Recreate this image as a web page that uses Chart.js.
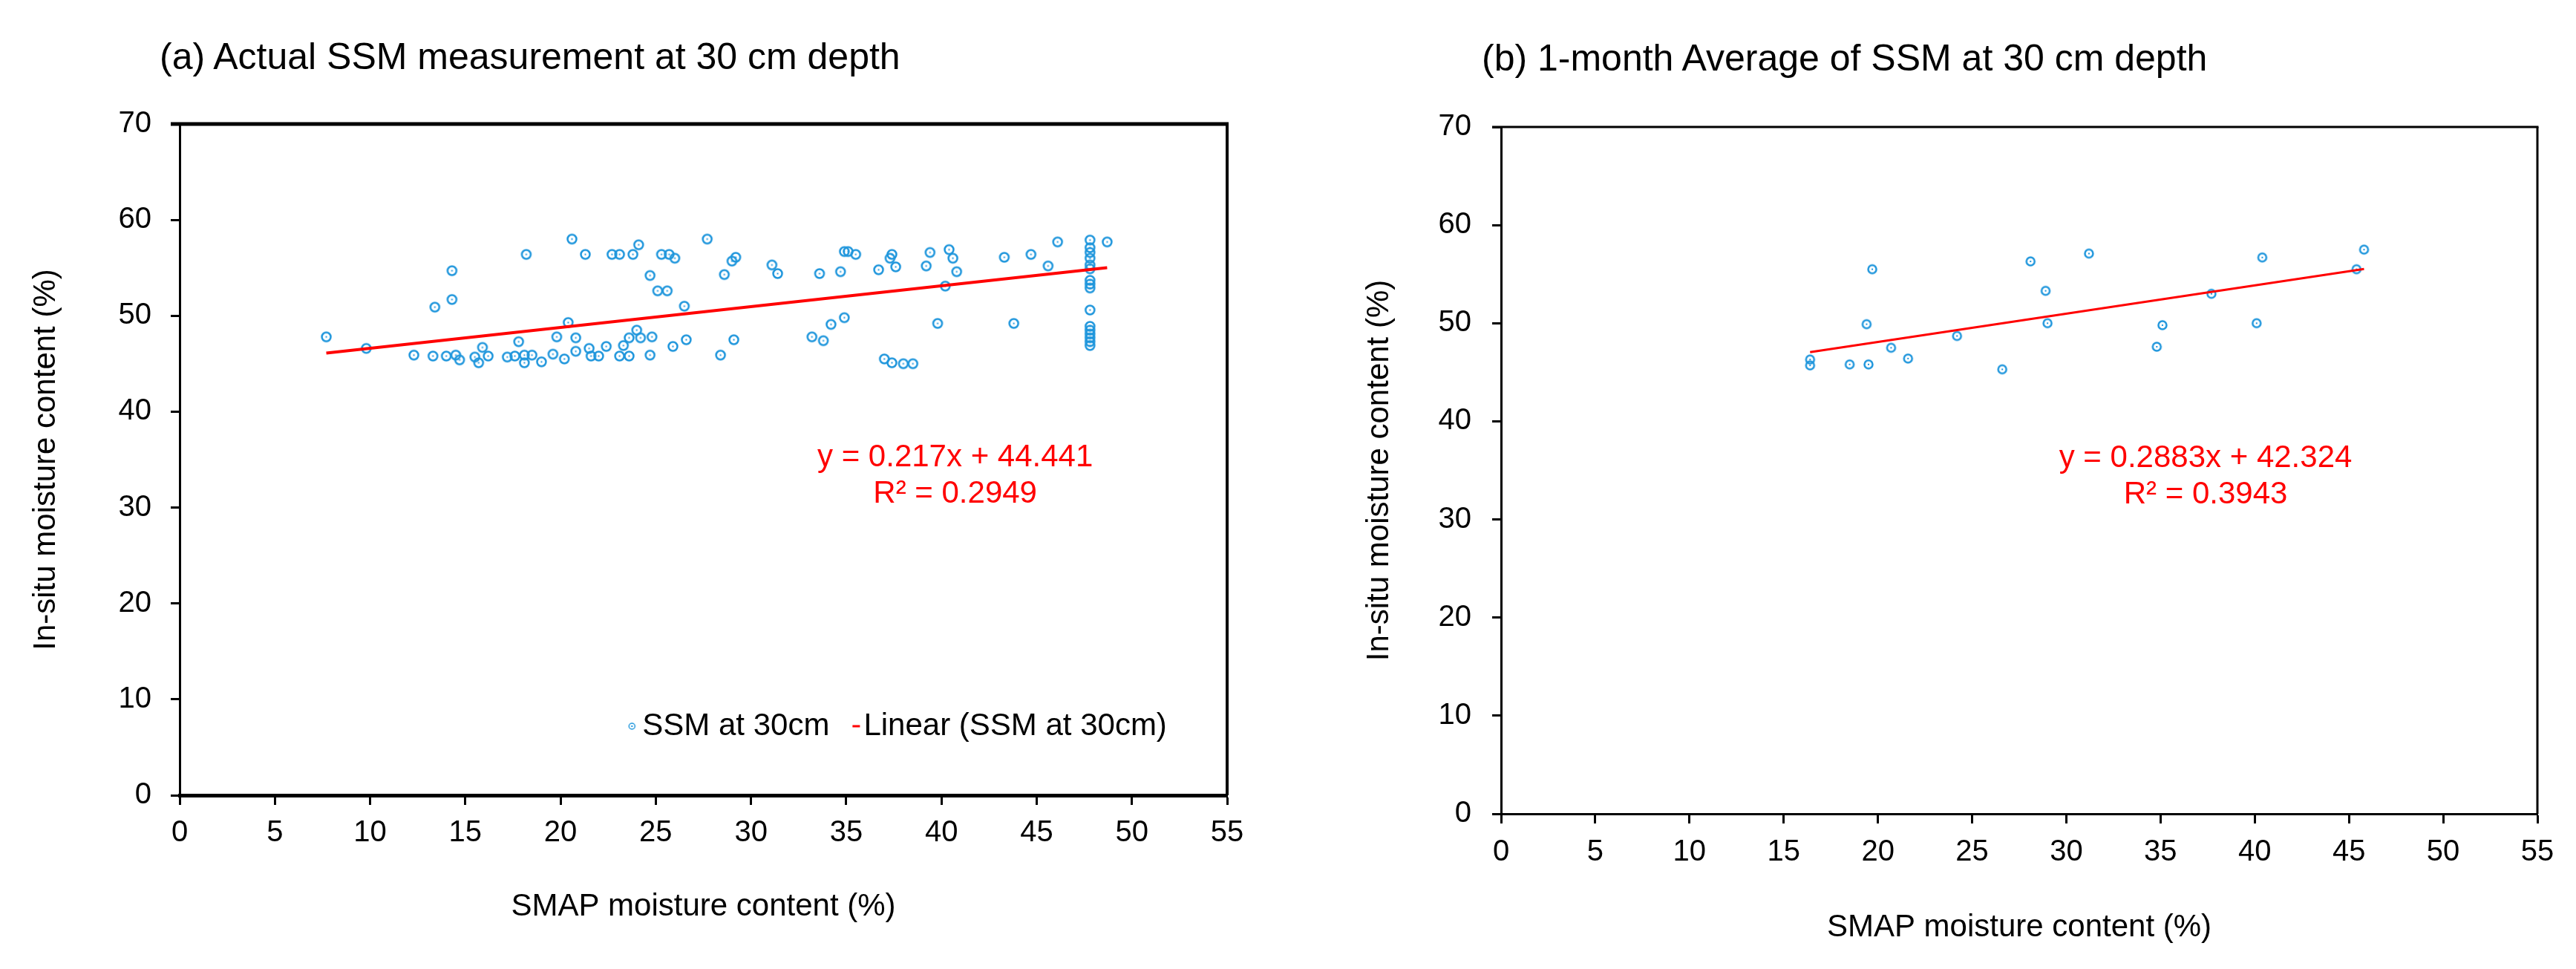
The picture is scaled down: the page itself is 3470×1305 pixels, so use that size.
<!DOCTYPE html>
<html>
<head>
<meta charset="utf-8">
<script src="https://cdn.jsdelivr.net/npm/chart.js@4.4.1/dist/chart.umd.min.js"></script>
<style>
  body { margin: 0; background: #fff; width: 3470px; height: 1305px; position: relative; overflow: hidden; font-family: "Liberation Sans", Arial, sans-serif; }
  canvas { position: absolute; top: 0; }
  #chartA { left: 0; }
  #chartB { left: 1735px; }
  .ttl { position: absolute; font-size: 50px; line-height: 1; color: #000; white-space: nowrap; }
</style>
</head>
<body>
<div class="ttl" style="left:215px;top:51px">(a) Actual SSM measurement at 30 cm depth</div>
<div class="ttl" style="left:1996px;top:53px">(b) 1-month Average of SSM at 30 cm depth</div>
<canvas id="chartA" width="1735" height="1305"></canvas>
<canvas id="chartB" width="1735" height="1305"></canvas>
<script>
// ticks
const xTicks = [0, 5, 10, 15, 20, 25, 30, 35, 40, 45, 50, 55];
const yTicks = [0, 10, 20, 30, 40, 50, 60, 70];

// (a) actual SSM at 30 cm, SMAP vs in-situ
const ssmX = [7.7, 9.8, 12.3, 13.3, 13.4, 14.3, 14.3, 14.0, 14.5, 14.7, 15.5, 15.7, 15.9, 16.2, 18.2, 17.2, 17.8, 17.6,
  18.1, 18.1, 18.5, 19.0, 19.8, 19.6, 20.2, 20.4, 20.6, 20.8, 20.8, 21.3, 21.5, 21.6, 22.0, 22.4, 22.7, 23.1, 23.1, 23.3,
  23.6, 23.6, 23.8, 24.1, 24.0, 24.2, 24.7, 24.8, 24.7, 25.1, 25.6, 25.3, 25.7, 26.0, 25.9, 26.5, 26.6, 27.7, 28.4, 28.6,
  29.1, 29.0, 29.2, 31.1, 31.4, 33.2, 33.8, 33.6, 34.2, 34.9, 34.7, 34.9, 35.1, 35.5, 36.7, 37.0, 37.4, 38.0, 38.5, 37.4,
  37.3, 37.6, 39.4, 39.2, 39.8, 40.4, 40.6, 40.8, 40.2, 43.3, 43.8, 44.7, 45.6, 46.1,
  47.8, 47.8, 47.8, 47.8, 47.8, 47.8, 47.8, 47.8, 47.8, 47.8, 47.8, 47.8, 47.8, 47.8, 47.8, 47.8, 48.7];
const ssmY = [47.8, 46.6, 45.9, 45.8, 50.9, 54.7, 51.7, 45.8, 45.9, 45.4, 45.7, 45.1, 46.7, 45.8, 56.4, 45.7, 47.3, 45.8,
  45.9, 45.1, 45.9, 45.2, 47.8, 46.0, 45.5, 49.3, 58.0, 47.7, 46.3, 56.4, 46.6, 45.8, 45.8, 46.8, 56.4, 56.4, 45.8, 46.9,
  45.8, 47.7, 56.4, 57.4, 48.5, 47.7, 54.2, 47.8, 45.9, 52.6, 52.6, 56.4, 56.4, 56.0, 46.8, 51.0, 47.5, 58.0, 45.9, 54.3,
  47.5, 55.7, 56.1, 55.3, 54.4, 47.8, 47.4, 54.4, 49.1, 49.8, 54.6, 56.7, 56.7, 56.4, 54.8, 45.5, 45.1, 45.0, 45.0, 56.4,
  56.0, 55.1, 56.6, 55.2, 49.2, 56.9, 56.0, 54.6, 53.1, 56.1, 49.2, 56.4, 55.2, 57.7,
  57.9, 57.1, 56.6, 56.0, 55.3, 54.9, 53.7, 53.3, 52.9, 50.6, 48.9, 48.5, 48.1, 47.7, 47.3, 46.9, 57.7];
const slopeA = 0.217, interceptA = 44.441, r2A = 0.2949;

// (b) 1-month average
const avgX = [16.4, 16.4, 18.5, 19.5, 19.7, 19.4, 20.7, 21.6, 24.2, 26.6, 28.1, 28.9, 29.0, 31.2, 35.1, 34.8, 37.7, 40.4, 40.1, 45.4, 45.8];
const avgY = [46.3, 45.7, 45.8, 45.8, 55.5, 49.9, 47.5, 46.4, 48.7, 45.3, 56.3, 53.3, 50.0, 57.1, 49.8, 47.6, 53.0, 56.7, 50.0, 55.5, 57.5];
const slopeB = 0.2883, interceptB = 42.324, r2B = 0.3943;

const BLUE = '#1f96dc';
const RED = '#ff0000';
const FONT = '"Liberation Sans", Arial, sans-serif';
Chart.defaults.font.family = FONT;
Chart.defaults.color = '#000';

function ringMarker(r, lw) {
  const s = Math.ceil(2 * r + lw + 2);
  const c = document.createElement('canvas');
  c.width = c.height = s;
  const g = c.getContext('2d');
  g.strokeStyle = BLUE; g.lineWidth = lw;
  g.beginPath(); g.arc(s / 2, s / 2, r, 0, Math.PI * 2); g.stroke();
  g.fillStyle = BLUE; g.fillRect(s / 2 - 1, s / 2 - 1, 2, 2);
  return c;
}

function trend(xs, m, b) {
  const lo = Math.min(...xs), hi = Math.max(...xs);
  return [{ x: lo, y: m * lo + b }, { x: hi, y: m * hi + b }];
}

// frame, equation and in-plot legend
const panelExtras = {
  id: 'panelExtras',
  afterDraw(chart, args, o) {
    const { ctx, chartArea: a, scales: { x, y } } = chart;
    ctx.save();
    ctx.strokeStyle = '#000';
    ctx.lineWidth = o.topWidth;
    ctx.beginPath(); ctx.moveTo(a.left - 12, a.top); ctx.lineTo(a.right + o.rightWidth / 2, a.top); ctx.stroke();
    ctx.lineWidth = o.rightWidth;
    ctx.beginPath(); ctx.moveTo(a.right, a.top); ctx.lineTo(a.right, a.bottom); ctx.stroke();

    ctx.fillStyle = RED;
    ctx.font = `42px ${FONT}`;
    ctx.textAlign = 'center';
    ctx.textBaseline = 'middle';
    const ex = x.getPixelForValue(o.eqAt[0]), ey = y.getPixelForValue(o.eqAt[1]);
    o.eqLines.forEach((t, i) => ctx.fillText(t, ex, ey + i * 49));

    if (o.legendAt) {
      const ds = chart.data.datasets;
      let lx = x.getPixelForValue(o.legendAt[0]);
      const ly = y.getPixelForValue(o.legendAt[1]);
      ctx.font = `42px ${FONT}`;
      ctx.textAlign = 'left';
      ctx.fillStyle = '#000';
      const m = ringMarker(4, 1.5);
      ctx.drawImage(m, lx - m.width / 2, ly - m.height / 2);
      lx += 14;
      ctx.fillText(ds[1].label, lx, ly);
      lx += ctx.measureText(ds[1].label).width + 31;
      ctx.fillStyle = RED;
      ctx.fillRect(lx, ly - 1.5, 10, 3);
      lx += 15;
      ctx.fillStyle = '#000';
      ctx.fillText(ds[0].label, lx, ly);
    }
    ctx.restore();
  }
};

function makeChart(id, cfg) {
  const pts = cfg.xs.map((v, i) => ({ x: v, y: cfg.ys[i] }));
  return new Chart(document.getElementById(id), {
    data: {
      datasets: [
        { type: 'line', label: cfg.lineLabel, data: trend(cfg.xs, cfg.m, cfg.b), borderColor: RED, borderWidth: cfg.lineWidth, pointRadius: 0, order: 0 },
        { type: 'scatter', label: cfg.label, data: pts, pointStyle: ringMarker(cfg.r, 2.5), pointRadius: cfg.r, order: 1 }
      ]
    },
    options: {
      responsive: false, animation: false, devicePixelRatio: 1,
      layout: { padding: { top: cfg.area.top, right: cfg.area.right, left: 0, bottom: 0 } },
      plugins: {
        legend: { display: false }, tooltip: { enabled: false },
        panelExtras: {
          topWidth: cfg.topWidth, rightWidth: cfg.rightWidth,
          eqAt: cfg.eqAt, legendAt: cfg.legendAt,
          eqLines: [`y = ${cfg.m}x + ${cfg.b}`, `R² = ${cfg.r2}`]
        }
      },
      scales: {
        x: {
          type: 'linear', min: 0, max: 55,
          afterBuildTicks: s => { s.ticks = xTicks.map(v => ({ value: v })); },
          afterFit: s => { s.height = cfg.area.xh; },
          ticks: { font: { size: 40 }, color: '#000', padding: cfg.xPad },
          grid: { drawOnChartArea: false, tickLength: 13, tickWidth: 3, tickColor: '#000' },
          border: { color: '#000', width: cfg.bottomWidth },
          title: { display: true, text: 'SMAP moisture content (%)', font: { size: 42 }, color: '#000', padding: { top: 0, bottom: cfg.xTitlePad } }
        },
        y: {
          type: 'linear', min: 0, max: 70,
          afterBuildTicks: s => { s.ticks = yTicks.map(v => ({ value: v })); },
          afterFit: s => { s.width = cfg.area.yw; },
          ticks: { font: { size: 40 }, color: '#000', padding: cfg.yPad },
          grid: { drawOnChartArea: false, tickLength: 12, tickWidth: 3, tickColor: '#000' },
          border: { color: '#000', width: 3 },
          title: { display: true, text: 'In-situ moisture content (%)', font: { size: 42 }, color: '#000', padding: { top: cfg.yTitlePad, bottom: 0 } }
        }
      }
    },
    plugins: [panelExtras]
  });
}

makeChart('chartA', {
  xs: ssmX, ys: ssmY, m: slopeA, b: interceptA, r2: r2A,
  label: 'SSM at 30cm', lineLabel: 'Linear (SSM at 30cm)',
  r: 6, lineWidth: 4, topWidth: 5, bottomWidth: 5, rightWidth: 4,
  area: { top: 167, right: 82, yw: 242, xh: 234 },
  xPad: 14, yPad: 26, xTitlePad: 58, yTitlePad: 37,
  eqAt: [40.72, 35.2], legendAt: [23.75, 7.2]
});

makeChart('chartB', {
  xs: avgX, ys: avgY, m: slopeB, b: interceptB, r2: r2B,
  label: 'SSM at 30cm', lineLabel: 'Linear (SSM at 30cm)',
  r: 5.5, lineWidth: 3, topWidth: 3, bottomWidth: 3, rightWidth: 3,
  area: { top: 171, right: 52, yw: 287, xh: 209 },
  xPad: 15, yPad: 28, xTitlePad: 30, yTitlePad: 98,
  eqAt: [37.39, 36.19], legendAt: null
});
</script>
</body>
</html>
